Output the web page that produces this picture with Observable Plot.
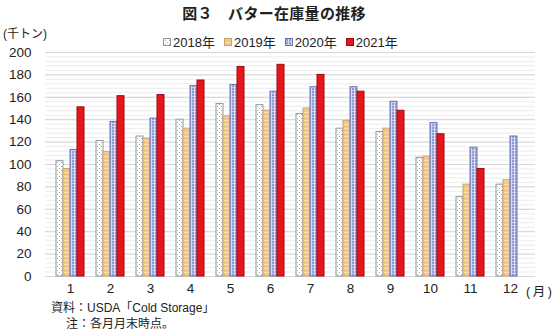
<!DOCTYPE html>
<html>
<head>
<meta charset="utf-8">
<script src="https://cdn.jsdelivr.net/npm/d3@7"></script>
<script src="https://cdn.jsdelivr.net/npm/@observablehq/plot@0.6"></script>
<style>
  html, body { margin: 0; padding: 0; background: #fff; }
  #wrap { position: relative; width: 558px; height: 330px; overflow: hidden;
    font-family: "Liberation Sans", "Noto Sans CJK JP", sans-serif; color: #222; }
  .abs { position: absolute; white-space: nowrap; }
  #title { left: 0; width: 548px; top: 2px; text-align: center; font-size: 15px; font-weight: bold;
    font-family: "Noto Sans CJK JP", sans-serif; letter-spacing: 0.3px; }
  #unit { left: 3px; top: 24px; font-size: 12px; }
  #legend { left: 163px; top: 32px; font-size: 13px; display: flex; gap: 9px; }
  #legend span.item { display: inline-flex; align-items: center; gap: 2px; }
  #month { left: 526px; top: 281px; font-size: 12.5px; letter-spacing: 2.5px; }
  #src { left: 51px; top: 298px; font-size: 12px; }
  #note { left: 66px; top: 314px; font-size: 12px; }
  .layer { position: absolute; left: 0; top: 0; }
</style>
</head>
<body>
<svg width="0" height="0" style="position:absolute">
  <defs>
    <pattern id="p2018" width="4" height="4" patternUnits="userSpaceOnUse">
      <rect width="4" height="4" fill="#ffffff"/>
      <rect x="0" y="0" width="1" height="1" fill="#8cb8b8"/>
      <rect x="2" y="2" width="1" height="1" fill="#8cb8b8"/>
    </pattern>
    <pattern id="p2019" width="4" height="4" patternUnits="userSpaceOnUse">
      <rect width="4" height="4" fill="#f4c887"/>
      <rect x="0" y="0" width="4" height="1" fill="#f9dcae"/>
      <rect x="1" y="2" width="1" height="1" fill="#eab872"/>
    </pattern>
    <pattern id="p2020" width="3" height="3" patternUnits="userSpaceOnUse">
      <rect width="3" height="3" fill="#8e99d4"/>
      <rect x="0" y="0" width="1" height="3" fill="#dde1f5"/>
      <rect x="0" y="0" width="3" height="1" fill="#c8cdee"/>
    </pattern>
  </defs>
</svg>
<div id="wrap">
  <div id="grid" class="layer"></div>
  <div id="bars" class="layer"></div>
  <div id="title" class="abs">図３　バター在庫量の推移</div>
  <div id="unit" class="abs">(千トン)</div>
  <div id="legend" class="abs"></div>
  <div id="month" class="abs">(月)</div>
  <div id="src" class="abs">資料：USDA「Cold Storage」</div>
  <div id="note" class="abs">注：各月月末時点。</div>
</div>
<script>
const months = [1,2,3,4,5,6,7,8,9,10,11,12];
const years = ["2018年","2019年","2020年","2021年"];
const v2018 = [103,121,125,140,154,153,145,132,129,106,71,82];
const v2019 = [96,111,123,132,143,148,150,139,132,107,82,86];
const v2020 = [113,138,141,170,171,165,169,169,156,137,115,125];
const v2021 = [151,161,162,175,187,189,180,165,148,127,96,null];
const yTicks = [0,20,40,60,80,100,120,140,160,180,200];
const minorTicks = d3.range(0, 201, 4);

const series = [v2018, v2019, v2020, v2021];
const fills = ["url(#p2018)","url(#p2019)","url(#p2020)","#e8141c"];
const strokes = ["#8e9a9a","#c9a26a","#6b74ad","#9a0a10"];

const data = [];
years.forEach((yr, i) => months.forEach((m, j) => {
  if (series[i][j] != null) data.push({month: m, year: yr, value: series[i][j]});
}));

const common = {
  width: 558,
  height: 330,
  marginTop: 52,
  marginBottom: 54,
  marginLeft: 45,
  marginRight: 23,
  style: {fontFamily: '"Liberation Sans", "Noto Sans CJK JP", sans-serif', fontSize: "13.5px", color: "#222", background: "transparent"}
};

// background layer: y axis + gridlines spanning the whole plot area
const gridChart = Plot.plot({
  ...common,
  x: {axis: null, domain: [0, 1]},
  y: {domain: [0, 200], ticks: yTicks, label: null, tickSize: 0, tickPadding: 14},
  marks: [
    Plot.ruleY(minorTicks, {stroke: "#ececec", strokeWidth: 1}),
    Plot.ruleY(yTicks, {stroke: "#d6d6d6", strokeWidth: 1})
  ]
});
document.getElementById("grid").appendChild(gridChart);

// foreground layer: grouped bars
const barChart = Plot.plot({
  ...common,
  fx: {domain: months, paddingInner: 0.3, paddingOuter: 0.2, label: null, axis: "bottom", tickSize: 0, tickPadding: 7},
  x: {domain: years, axis: null, padding: 0},
  y: {domain: [0, 200], axis: null},
  color: {domain: years, range: fills},
  marks: years.map((yr, i) => Plot.barY(data.filter(d => d.year === yr), {
    fx: "month", x: "year", y: "value", fill: "year", stroke: strokes[i], strokeWidth: 1
  }))
});
document.getElementById("bars").appendChild(barChart);

const legend = document.getElementById("legend");
years.forEach((yr, i) => {
  const item = document.createElement("span");
  item.className = "item";
  item.innerHTML = `<svg width="8" height="8"><rect x="0.5" y="0.5" width="7" height="7" fill="${fills[i]}" stroke="${strokes[i]}"/></svg><span>${yr}</span>`;
  legend.appendChild(item);
});
</script>
</body>
</html>
